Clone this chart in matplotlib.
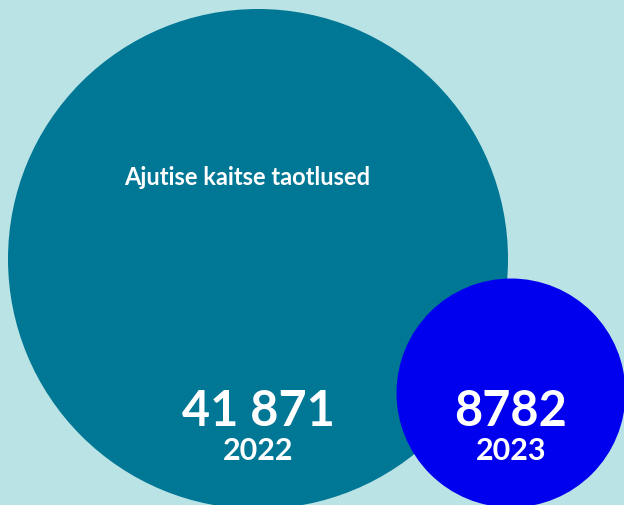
import matplotlib.pyplot as plt
from matplotlib.patches import Circle
import numpy as np

# data
years = ['2022', '2023']
values = [41871, 8782]
value_labels = ['41 871', '8782']
title = 'Ajutise kaitse taotlused'

bg_color = '#bae3e5'
circle_colors = ['#007795', '#0000ee']

# layout (pixels)
W, H = 624, 506
big_r = 250
radii = big_r * np.sqrt(np.array(values) / max(values))
centers = [(258, 260), (511, 394)]

fig = plt.figure(figsize=(W / 100, H / 100), dpi=100)
fig.patch.set_facecolor(bg_color)
ax = fig.add_axes([0, 0, 1, 1])
ax.set_xlim(0, W)
ax.set_ylim(H, 0)
ax.set_aspect('equal')
ax.axis('off')

for (cx, cy), r, col in zip(centers, radii, circle_colors):
	ax.add_patch(Circle((cx, cy), r, facecolor=col, edgecolor='none'))

font = ['Lato', 'DejaVu Sans']

for (cx, cy), lab, yr in zip(centers, value_labels, years):
	ax.text(cx, 412, lab, color='white', ha='center', va='center',
			fontsize=35, fontweight='bold', family=font)
	ax.text(cx, 451, yr, color='white', ha='center', va='center',
			fontsize=22, fontweight='bold', family=font)

ax.text(247, 177, title, color='white', ha='center', va='center',
		fontsize=17, fontweight='bold', family=font)

fig.savefig('out.png', dpi=100, facecolor=bg_color)
